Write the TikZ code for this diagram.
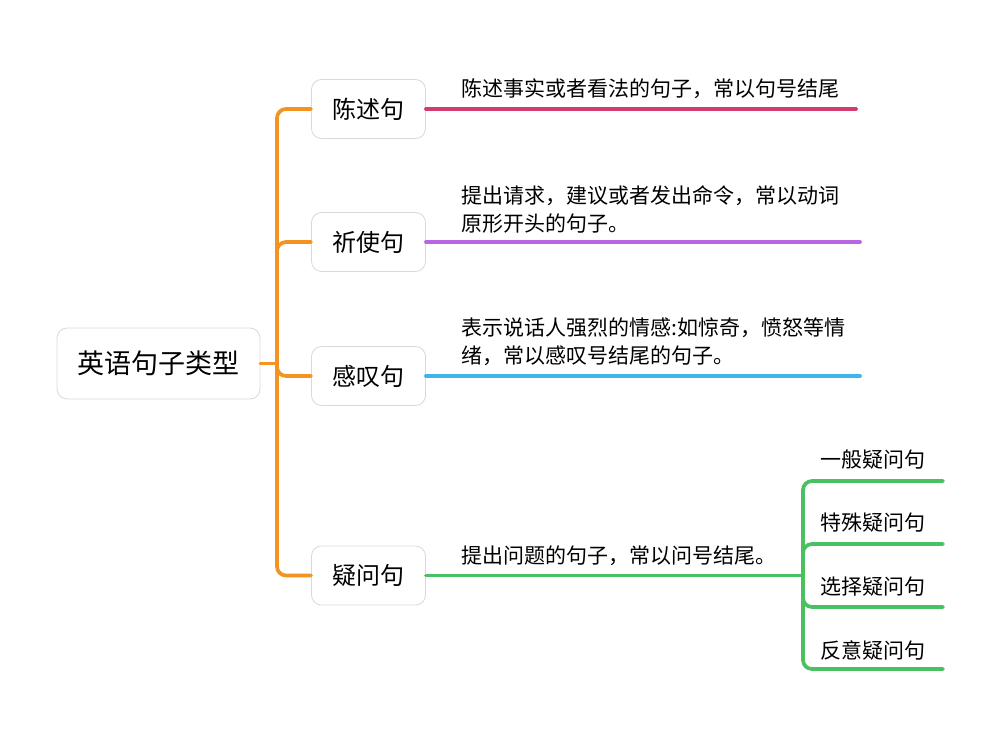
\documentclass[tikz,border=0pt]{standalone}
\usepackage{fontspec}
\newfontfamily\cjk{Noto Sans CJK SC}
\usepackage{tikz}
\definecolor{trunkorange}{HTML}{F29322}
\definecolor{linered}{HTML}{D03D6E}
\definecolor{linepurple}{HTML}{BC65E3}
\definecolor{lineblue}{HTML}{3CB5EB}
\definecolor{linegreen}{HTML}{4BC060}
\definecolor{boxgray}{HTML}{D9D9D9}

\begin{document}
\begin{tikzpicture}[x=1pt, y=-1pt,
    rootbox/.style={draw=boxgray, line width=0.8pt, rounded corners=10pt, fill=white,
        minimum width=203pt, minimum height=71pt, font=\cjk\fontsize{27}{32}\selectfont},
    kindbox/.style={draw=boxgray, line width=0.8pt, rounded corners=10pt, fill=white,
        minimum width=114pt, minimum height=59pt, font=\cjk\fontsize{24}{28}\selectfont},
    desc/.style={anchor=west, inner sep=0pt, align=left, font=\cjk\fontsize{21}{28}\selectfont},
    leaf/.style={anchor=west, inner sep=0pt, font=\cjk\fontsize{21}{26}\selectfont},
    branch/.style={line width=3.7pt, line cap=round, rounded corners=9pt}]
        \useasboundingbox (0,0) rectangle (1000,728);

        % 中心ノード
        \node[rootbox] (root) at (158.5,363.5) {英语句子类型};

        % 句子の種類
        \node[kindbox] (chenshu) at (368.5,109) {陈述句};
        \node[kindbox] (qishi) at (368.5,242) {祈使句};
        \node[kindbox] (gantan) at (368.5,376) {感叹句};
        \node[kindbox] (yiwen) at (368.5,575.5) {疑问句};

        % オレンジの幹
        \coordinate (hub) at (277,363.5);
        \draw[branch, trunkorange] (root.east) -- (hub);
        \draw[branch, trunkorange] (hub) |- (chenshu.west);
        \draw[branch, trunkorange] (hub) |- (qishi.west);
        \draw[branch, trunkorange] (hub) |- (gantan.west);
        \draw[branch, trunkorange] (hub) |- (yiwen.west);

        % 説明文と下線
        \node[desc] (chenshuText) at (461,89) {陈述事实或者看法的句子，常以句号结尾};
        \coordinate (chenshuEnd) at (856,109);
        \draw[branch, linered] (chenshu.east) -- (chenshuEnd);

        \node[desc] (qishiText) at (461,209) {提出请求，建议或者发出命令，常以动词\\原形开头的句子。};
        \coordinate (qishiEnd) at (860,242);
        \draw[branch, linepurple] (qishi.east) -- (qishiEnd);

        \node[desc] (gantanText) at (461,342) {表示说话人强烈的情感:如惊奇，愤怒等情\\绪，常以感叹号结尾的句子。};
        \coordinate (gantanEnd) at (860,376);
        \draw[branch, lineblue] (gantan.east) -- (gantanEnd);

        \node[desc] (yiwenText) at (461,556) {提出问题的句子，常以问号结尾。};
        \coordinate (split) at (803,575.5);
        \draw[branch, linegreen] (yiwen.east) -- (split);

        % 疑問文の下位分類
        \node[leaf] (yiban) at (820,460) {一般疑问句};
        \node[leaf] (teshu) at (820,523) {特殊疑问句};
        \node[leaf] (xuanze) at (820,587) {选择疑问句};
        \node[leaf] (fanyi) at (820,650) {反意疑问句};
        \coordinate (yibanEnd) at (943,481);
        \coordinate (teshuEnd) at (943,544);
        \coordinate (xuanzeEnd) at (943,607);
        \coordinate (fanyiEnd) at (943,669);
        \draw[branch, linegreen] (split) |- (yibanEnd);
        \draw[branch, linegreen] (split) |- (teshuEnd);
        \draw[branch, linegreen] (split) |- (xuanzeEnd);
        \draw[branch, linegreen] (split) |- (fanyiEnd);
    \end{tikzpicture}
\end{document}
